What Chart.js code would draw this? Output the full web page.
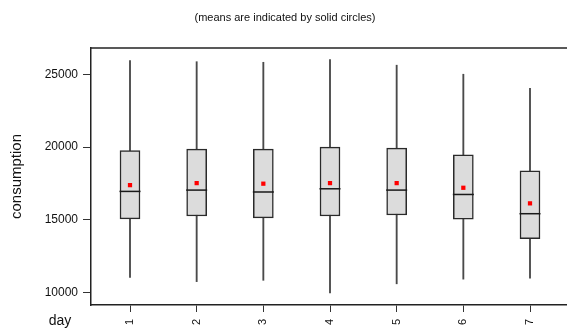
<!DOCTYPE html>
<html>
<head>
<meta charset="utf-8">
<script src="https://cdn.jsdelivr.net/npm/chart.js@4/dist/chart.umd.min.js"></script>
<style>
  html, body { margin: 0; padding: 0; background: #ffffff; }
  #wrap { position: relative; width: 567px; height: 329px; }
</style>
</head>
<body>
<div id="wrap"><canvas id="c" width="567" height="329"></canvas></div>
<script>
// ---- data ----
const days        = [1, 2, 3, 4, 5, 6, 7];
const whiskerLow  = [11050, 10770, 10860, 10000, 10620, 10940, 11000];
const q1          = [15070, 15270, 15140, 15270, 15340, 15050, 13720];
const medians     = [16960, 17050, 16920, 17140, 17050, 16750, 15430];
const q3          = [19770, 19860, 19860, 20000, 19930, 19470, 18380];
const whiskerHigh = [25930, 25860, 25820, 26000, 25620, 25000, 24040];
const means       = [17390, 17530, 17490, 17530, 17530, 17210, 16140];
const yTicks      = [10000, 15000, 20000, 25000];
const titleText   = '(means are indicated by solid circles)';
const yTitle      = 'consumption';
const xTitle      = 'day';

const FONT = '"Liberation Sans", Arial, sans-serif';

const whiskerData = days.map((d, i) => ({ x: d, y: [whiskerLow[i], whiskerHigh[i]] }));
const boxData     = days.map((d, i) => ({ x: d, y: [q1[i], q3[i]] }));
const medianData  = days.map((d, i) => ({ x: d, y: medians[i] }));
const meanData    = days.map((d, i) => ({ x: d, y: means[i] }));

const framePlugin = {
  id: 'frameAndText',
  afterDraw(chart) {
    const { ctx, chartArea } = chart;
    ctx.save();
    ctx.strokeStyle = '#222';
    ctx.lineWidth = 1.5;
    ctx.beginPath();
    ctx.moveTo(chartArea.left, chartArea.top);
    ctx.lineTo(chart.width, chartArea.top);
    ctx.stroke();
    ctx.fillStyle = '#111';
    ctx.textAlign = 'center';
    ctx.textBaseline = 'middle';
    ctx.font = '11px ' + FONT;
    ctx.fillText(titleText, 285, 17.5);
    ctx.font = '14px ' + FONT;
    ctx.fillText(xTitle, 60, 321);
    ctx.restore();
  }
};

new Chart(document.getElementById('c'), {
  type: 'bar',
  data: {
    datasets: [
      {
        type: 'line', data: meanData, showLine: false,
        pointStyle: 'rect', pointRadius: 3, pointBorderWidth: 0,
        pointBackgroundColor: '#ff0000', pointBorderColor: '#ff0000', order: 0
      },
      {
        type: 'line', data: medianData, showLine: false,
        pointStyle: 'line', pointRadius: 10.5, pointBorderWidth: 1.5,
        pointBorderColor: '#1a1a1a', order: 1
      },
      {
        type: 'bar', data: boxData, grouped: false, barThickness: 20,
        backgroundColor: '#dcdcdc', borderColor: '#2a2a2a', borderWidth: 1.5,
        borderSkipped: false, order: 2
      },
      {
        type: 'bar', data: whiskerData, grouped: false, barThickness: 1.2,
        backgroundColor: '#4a4a4a', borderWidth: 0, order: 3
      }
    ]
  },
  options: {
    responsive: false,
    animation: false,
    events: [],
    layout: { autoPadding: false, padding: { top: 48, left: 0, right: 0, bottom: 0 } },
    plugins: { legend: { display: false }, tooltip: { enabled: false }, title: { display: false } },
    scales: {
      x: {
        type: 'linear', min: 0.415, max: 7.555, offset: false,
        afterBuildTicks: (s) => { s.ticks = days.map(v => ({ value: v })); },
        afterFit: (s) => { s.height = 24; s.paddingLeft = 0; s.paddingRight = 0; },
        grid: { offset: false, drawOnChartArea: false, drawTicks: true, tickLength: 7, color: '#333', lineWidth: 1 },
        border: { display: true, color: '#222', width: 1.5 },
        ticks: {
          autoSkip: false, minRotation: 90, maxRotation: 90, padding: 7,
          color: '#111', font: { family: FONT, size: 11 },
          callback: (v) => String(v)
        }
      },
      y: {
        type: 'linear', min: 9166, max: 26800,
        afterBuildTicks: (s) => { s.ticks = yTicks.map(v => ({ value: v })); },
        afterFit: (s) => { s.width = 91; s.paddingTop = 0; s.paddingBottom = 0; },
        grid: { drawOnChartArea: false, drawTicks: true, tickLength: 8, color: '#333', lineWidth: 1 },
        border: { display: true, color: '#222', width: 1.5 },
        ticks: { padding: 5, color: '#111', font: { family: FONT, size: 12 }, callback: (v) => String(v) },
        title: { display: true, text: yTitle, color: '#111', font: { family: FONT, size: 15 }, padding: { top: 8, bottom: 0 } }
      }
    }
  },
  plugins: [framePlugin]
});
</script>
</body>
</html>
